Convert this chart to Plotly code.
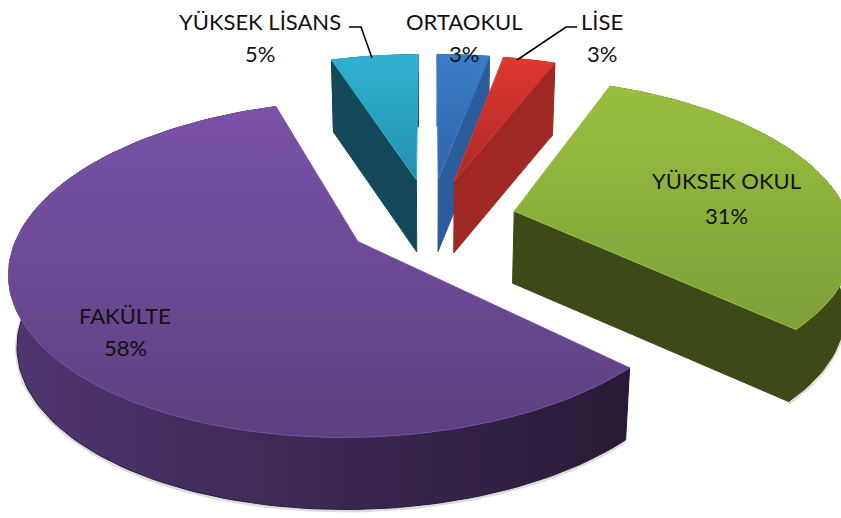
import math
import plotly.graph_objects as go

# ---- data ----
categories = ["ORTAOKUL", "LİSE", "YÜKSEK OKUL", "FAKÜLTE", "YÜKSEK LİSANS"]
values = [3, 3, 31, 58, 5]

# ---- style: colours per slice ----
top_colors = [("#3a7cc8", "#2f66aa"), ("#e0382f", "#a92a26"), ("#9abf3e", "#7da03a"),
              ("#7a52a8", "#5d4080"), ("#2fb2d2", "#2590ae")]
face_colors = ["#2c5c9c", "#a02825", "#3b4a17", "#2a1b3a", "#14495a"]
rim_colors = [("#2c5c9c", "#2c5c9c"), ("#b02c28", "#a02825"), ("#3b4a17", "#3b4a17"),
              ("#4f3670", "#281a36"), ("#14495a", "#14495a")]
draw_order = [4, 0, 1, 2, 3]

# ---- style: projection of the tilted pie (pixels) ----
CX, CY = 430, 220
A, B, P = 335, 157, 0.16
DEPTH = 72
LOW_SCALE = 0.98
EXPLODE = [0.27, 0.27, 0.26, 0.25, 0.27]


def project(u, v, low=False):
    s = 1 / (1 - P * v)
    if low:
        return CX + A * u * s * LOW_SCALE, CY + B * v * s + DEPTH
    return CX + A * u * s, CY + B * v * s


def direction(deg):
    r = math.radians(deg)
    return math.sin(r), -math.cos(r)


total = sum(values)
spans, start = [], 0.0
for val in values:
    spans.append((start, start + 360.0 * val / total))
    start += 360.0 * val / total

fig = go.Figure()


def poly(pts, c0_, c1_, kind="vertical"):
    xs = [p[0] for p in pts] + [pts[0][0]]
    ys = [p[1] for p in pts] + [pts[0][1]]
    fig.add_trace(go.Scatter(
        x=xs, y=ys, mode="lines", fill="toself", line=dict(width=1, color=c1_),
        fillgradient=dict(type=kind, colorscale=[[0, c0_], [1, c1_]]),
        hoverinfo="skip", showlegend=False))


for i in draw_order:
    a0, a1 = spans[i]
    mu, mv = direction((a0 + a1) / 2)
    ou = EXPLODE[i] * mu
    ov = EXPLODE[i] * mv
    n = max(4, int((a1 - a0) / 1.5))
    arc = [a0 + (a1 - a0) * k / n for k in range(n + 1)]
    disc = [(ou + direction(t)[0], ov + direction(t)[1]) for t in arc]
    top_arc = [project(u, v) for u, v in disc]
    low_arc = [project(u, v, True) for u, v in disc]
    apex, apex_low = project(ou, ov), project(ou, ov, True)

    # soft contact shadow along the lower outline
    fig.add_trace(go.Scatter(
        x=[p[0] for p in low_arc], y=[p[1] + 1 for p in low_arc], mode="lines",
        line=dict(width=4, color="rgba(90,90,90,0.22)"), hoverinfo="skip", showlegend=False))

    # outer rim
    poly(top_arc + low_arc[::-1], rim_colors[i][0], rim_colors[i][1], "horizontal")
    # visible cut face
    if math.sin(math.radians(a1)) > 0.01 and a1 < 180:
        poly([apex, top_arc[-1], low_arc[-1], apex_low], face_colors[i], face_colors[i])
    if math.sin(math.radians(a0)) < -0.01:
        poly([apex, top_arc[0], low_arc[0], apex_low], face_colors[i], face_colors[i])
    # top face
    poly([apex] + top_arc, top_colors[i][1], top_colors[i][0])

# leader lines
leader_x = [[349, 361, 372], [577, 566, 517]]
leader_y = [[27, 27, 58], [27, 27, 60]]
for lx, ly in zip(leader_x, leader_y):
    fig.add_trace(go.Scatter(x=lx, y=ly, mode="lines", line=dict(width=1.6, color="#000000"),
                             hoverinfo="skip", showlegend=False))

# labels
label_x = [464, 602, 726, 125, 260]
label_y = [(21, 53), (21, 53), (180, 215), (315, 347), (21, 53)]
for name, val, lx, (y1, y2) in zip(categories, values, label_x, label_y):
    for txt, yy in ((name, y1), (f"{val}%", y2)):
        fig.add_annotation(x=lx, y=yy, text=txt, showarrow=False, xanchor="center", yanchor="middle",
                           font=dict(family="Lato", size=22, color="#111111"))

fig.update_layout(
    width=841, height=518, margin=dict(l=0, r=0, t=0, b=0),
    paper_bgcolor="white", plot_bgcolor="white", showlegend=False,
    xaxis=dict(range=[0, 841], visible=False, fixedrange=True),
    yaxis=dict(range=[518, 0], visible=False, fixedrange=True),
)
fig.write_html("out.html", config={"displayModeBar": False},
               post_script="document.body.style.margin='0';document.body.style.overflow='hidden';")
